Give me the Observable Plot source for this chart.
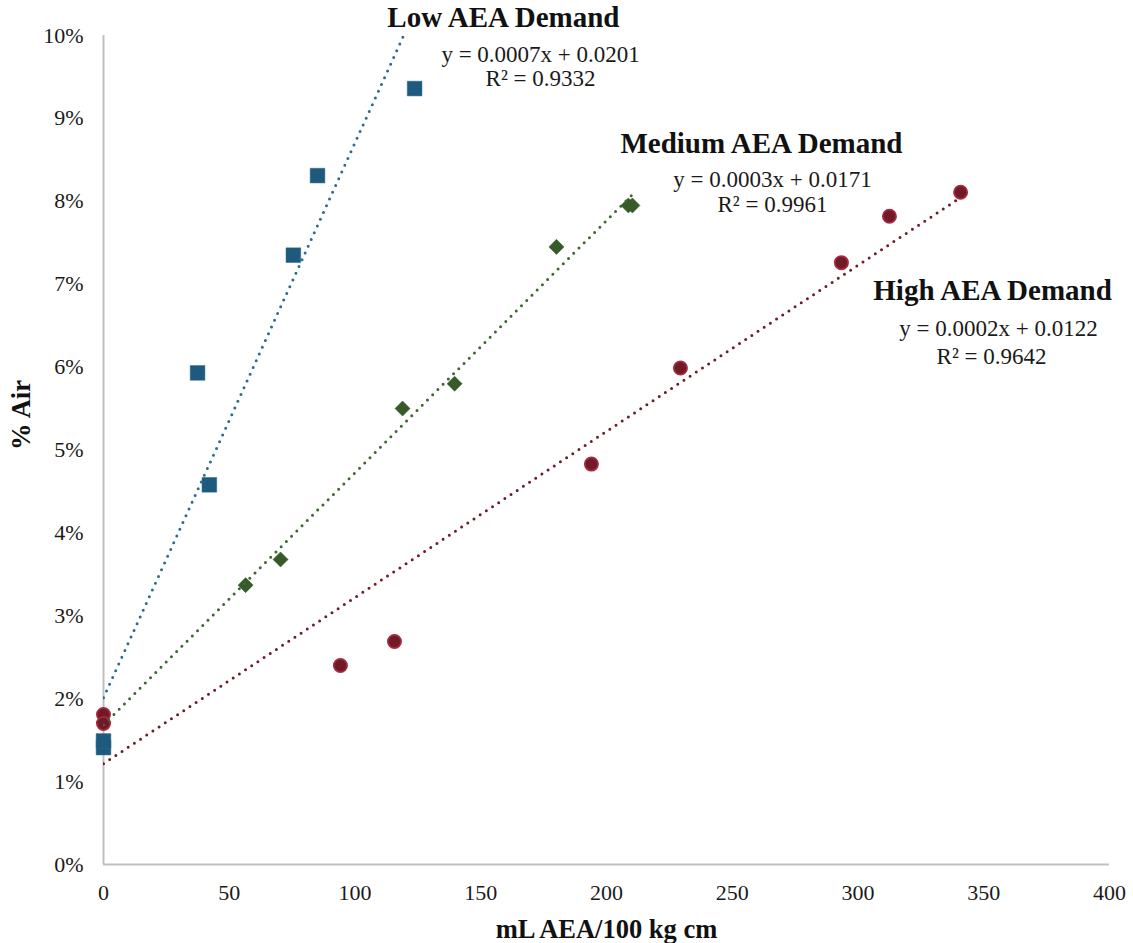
<!DOCTYPE html>
<html>
<head>
<meta charset="utf-8">
<script src="https://cdn.jsdelivr.net/npm/d3@7"></script>
<script src="https://cdn.jsdelivr.net/npm/@observablehq/plot@0.6"></script>
<style>
  html, body { margin: 0; padding: 0; background: #ffffff; }
  #chart { width: 1133px; height: 943px; }
</style>
</head>
<body>
<div id="chart"></div>
<script>
// ---- data (x: mL AEA/100 kg cm, y: air content as fraction) ----
const lowX  = [0, 0, 37.4, 42.1, 75.5, 85.1, 123.7];
const lowY  = [0.0141, 0.0149, 0.0593, 0.0458, 0.0735, 0.0831, 0.0936];

const medX  = [0, 56.5, 70.4, 118.9, 139.6, 180.1, 208.7, 210.3];
const medY  = [0.0172, 0.0337, 0.0368, 0.0550, 0.0580, 0.0745, 0.0795, 0.0795];

const highX = [0, 0, 94.2, 115.7, 194.0, 229.4, 293.4, 312.5, 340.8];
const highY = [0.0181, 0.0170, 0.0240, 0.0269, 0.0483, 0.0599, 0.0726, 0.0782, 0.0811];

const xTicks = [0, 50, 100, 150, 200, 250, 300, 350, 400];
const yTicks = [0, 0.01, 0.02, 0.03, 0.04, 0.05, 0.06, 0.07, 0.08, 0.09, 0.10];

const seriesTitles = ["Low AEA Demand", "Medium AEA Demand", "High AEA Demand"];
const titleX = [159.0, 261.6, 353.5];
const titleY = [0.10097, 0.08577, 0.06815];
const equations = ["y = 0.0007x + 0.0201", "y = 0.0003x + 0.0171", "y = 0.0002x + 0.0122"];
const eqX = [173.8, 266.0, 355.9];
const eqY = [0.09686, 0.08167, 0.06381];
const rSquared = ["R\u00B2 = 0.9332", "R\u00B2 = 0.9961", "R\u00B2 = 0.9642"];
const r2X = [173.8, 266.0, 353.1];
const r2Y = [0.09385, 0.07865, 0.06043];

const xTitle = "mL AEA/100 kg cm";
const yTitle = "% Air";

// ---- build tables ----
const toRows = (xs, ys) => xs.map((x, i) => ({x, y: ys[i]}));
const low = toRows(lowX, lowY);
const med = toRows(medX, medY);
const high = toRows(highX, highY);
const titles = seriesTitles.map((t, i) => ({t, x: titleX[i], y: titleY[i]}));
const eqs = equations.map((t, i) => ({t, x: eqX[i], y: eqY[i]}));
const r2s = rSquared.map((t, i) => ({t, x: r2X[i], y: r2Y[i]}));

const blue = "#1d5a7e", blueLine = "#2a6b93";
const green = "#365a28", greenLine = "#3c6632";
const red = "#701a27", redStroke = "#a52a3b", redLine = "#6e1d28";
const axisGray = "#bfbfbf";
const dotted = {strokeWidth: 3, strokeDasharray: "0 7.4", strokeLinecap: "round", ci: 0, clip: true};

const chart = Plot.plot({
  width: 1133,
  height: 943,
  marginLeft: 103,
  marginRight: 24,
  marginTop: 35,
  marginBottom: 79,
  style: {fontFamily: "'Liberation Serif', 'Times New Roman', serif", fontSize: "22px", color: "#1a1a1a", background: "#ffffff"},
  x: {domain: [0, 400], ticks: xTicks, tickSize: 0, tickPadding: 20, label: null},
  y: {domain: [0, 0.10], ticks: yTicks, tickSize: 0, tickPadding: 20, tickFormat: d3.format(".0%"), label: null},
  marks: [
    Plot.ruleX([0], {stroke: axisGray, strokeWidth: 2}),
    Plot.ruleY([0], {stroke: axisGray, strokeWidth: 2}),
    Plot.dot(med, {x: "x", y: "y", symbol: "diamond2", r: 6.8, fill: green, stroke: green, strokeWidth: 0.5}),
    Plot.dot(high, {x: "x", y: "y", symbol: "circle", r: 6.6, fill: red, stroke: redStroke, strokeWidth: 1.8}),
    Plot.dot(low, {x: "x", y: "y", symbol: "square", r: 8.3, fill: blue, stroke: "#2c6a8f", strokeWidth: 0.5}),
    Plot.linearRegressionY(low, {x: "x", y: "y", stroke: blueLine, ...dotted}),
    Plot.linearRegressionY(med, {x: "x", y: "y", stroke: greenLine, ...dotted}),
    Plot.linearRegressionY(high, {x: "x", y: "y", stroke: redLine, ...dotted}),
    Plot.text(titles, {x: "x", y: "y", text: "t", textAnchor: "middle", lineAnchor: "bottom", fontSize: 29, fontWeight: "bold", fill: "#111"}),
    Plot.text(eqs, {x: "x", y: "y", text: "t", textAnchor: "middle", lineAnchor: "bottom", fontSize: 23, fill: "#1a1a1a"}),
    Plot.text(r2s, {x: "x", y: "y", text: "t", textAnchor: "middle", lineAnchor: "bottom", fontSize: 23, fill: "#1a1a1a"}),
    Plot.text([xTitle], {frameAnchor: "bottom", dy: 73, lineAnchor: "bottom", fontSize: 26.5, fontWeight: "bold", fill: "#111"}),
    Plot.text([yTitle], {frameAnchor: "left", dx: -82, rotate: -90, lineAnchor: "middle", fontSize: 26.5, fontWeight: "bold", fill: "#111"})
  ]
});
document.getElementById("chart").appendChild(chart);
</script>
</body>
</html>
